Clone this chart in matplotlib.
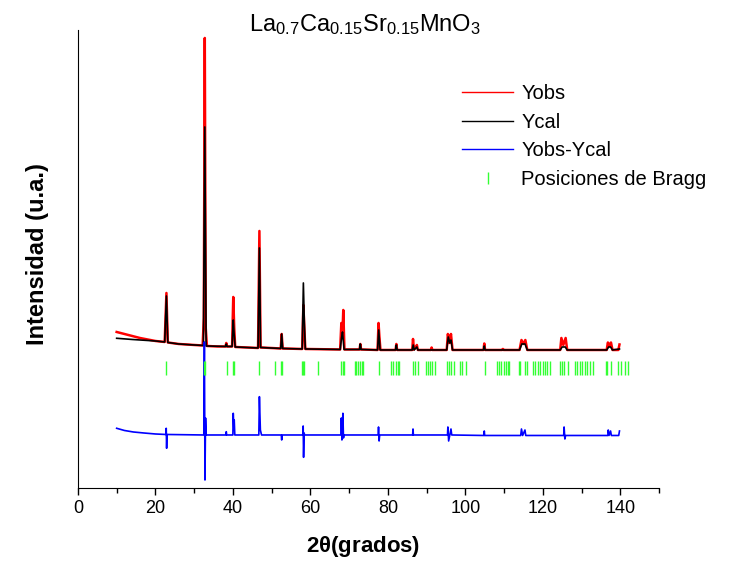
import matplotlib
matplotlib.use('Agg')
import matplotlib.pyplot as plt
from matplotlib.lines import Line2D
from matplotlib.ticker import MultipleLocator

plt.rcParams['font.family'] = ['Liberation Sans', 'DejaVu Sans']
plt.rcParams['mathtext.fontset'] = 'custom'
plt.rcParams['mathtext.rm'] = 'Liberation Sans'
plt.rcParams['mathtext.it'] = 'Liberation Sans:italic'
plt.rcParams['mathtext.bf'] = 'Liberation Sans:bold'

# observed pattern
obs_2t = [10.0, 11.0, 12.0, 14.0, 16.0, 18.0, 20.0, 22.4, 22.85, 23.2, 26.0, 30.0,
          32.2, 32.5, 32.75, 33.0, 33.3, 36.0, 38.1, 38.3, 38.5, 39.8, 40.1, 40.35,
          40.6, 46.5, 46.85, 47.15, 52.35, 52.6, 52.85, 57.9, 58.2, 58.45, 58.7,
          67.7, 68.0, 68.25, 68.5, 68.8, 72.7, 72.9, 73.1, 77.35, 77.6, 77.85, 78.1,
          82.0, 82.2, 82.4, 86.3, 86.5, 86.75, 87.5, 87.75, 91.1, 91.3, 91.5,
          95.2, 95.5, 95.9, 96.3, 96.7, 104.7, 104.9, 105.1, 109.5, 109.7, 109.9,
          114.0, 114.5, 115.0, 115.5, 116.0, 124.5, 124.8, 125.3, 125.9, 126.3,
          136.5, 136.8, 137.2, 137.6, 138.0, 139.5, 139.8]
obs_int = [156, 155, 154, 152, 150, 148.5, 147, 146, 195, 145.5, 144, 143,
           142.5, 170, 450, 160, 142, 141.5, 141.5, 145, 141.5, 141.5, 191, 160,
           141, 140, 257, 140.5, 139.5, 154, 139.5, 139, 183, 160, 139,
           138.5, 165, 150, 178, 138.5, 138.5, 144, 138.5, 138, 165, 150, 138,
           138, 144, 138, 138, 149, 138.5, 143, 138, 138, 140.5, 138,
           138, 154, 145, 154, 138, 138, 144.5, 138, 138, 139, 138,
           138, 148, 144, 148, 138, 138, 150, 143, 150, 138,
           138, 145.5, 142, 145.5, 138, 138, 143.5]

# calculated pattern
cal_2t = [10.0, 14.0, 20.0, 22.4, 22.85, 23.2, 26.0, 30.0, 32.4, 32.75, 33.1,
          38.1, 38.3, 38.5, 39.8, 40.1, 40.3, 40.6, 46.5, 46.85, 47.15,
          52.35, 52.6, 52.85, 57.9, 58.2, 58.45, 58.7, 67.7, 68.05, 68.3, 68.7,
          72.7, 72.9, 73.1, 77.35, 77.65, 78.0, 82.0, 82.2, 82.4,
          86.3, 86.55, 86.8, 87.5, 87.75, 95.2, 95.6, 96.0, 96.3, 96.7,
          104.7, 104.9, 105.1, 114.0, 114.6, 115.4, 116.0,
          124.5, 125.0, 125.8, 126.3, 136.5, 137.0, 137.5, 138.0, 139.8]
cal_int = [149.7, 148.5, 147, 146, 192, 145.5, 144, 143, 142.5, 361, 142,
           141.5, 144, 141.5, 141.5, 168, 155, 141, 140, 240, 140.5,
           139.5, 154, 139.5, 139, 205, 165, 139, 138.5, 150, 156, 138.5,
           138.5, 144, 138.5, 138, 158, 138, 138, 143, 138,
           138, 143, 138, 141, 138, 138, 151, 145, 148, 138,
           138, 142, 138, 138, 144, 144, 138,
           138, 141, 141, 138, 138, 141, 141, 138, 139]

# difference curve (shifted down)
dif_2t = [10.0, 12.0, 14.3, 17.0, 20.0, 22.7, 22.8, 22.9, 23.0, 32.5, 32.65, 32.8,
          32.95, 33.1, 38.2, 38.3, 38.4, 40.0, 40.1, 40.25, 40.35, 40.5, 46.7, 46.85,
          47.1, 47.4, 52.5, 52.6, 52.7, 58.05, 58.15, 58.25, 58.4, 58.5,
          67.9, 68.0, 68.15, 68.4, 68.55, 68.7, 77.5, 77.6, 77.75, 77.9,
          86.4, 86.5, 86.6, 95.4, 95.5, 95.7, 96.3, 96.5, 104.8, 104.9, 105.0,
          114.3, 114.5, 114.8, 115.4, 115.6, 125.4, 125.5, 125.7, 125.9,
          136.8, 136.9, 137.1, 137.5, 137.7, 139.6, 139.8]
dif_int = [59.7, 57.5, 56, 55, 54, 53.5, 59.7, 39.7, 53.5, 53, 146, 8,
           70, 53, 53, 56.3, 53, 53, 74.7, 60, 68, 53, 53, 91.3,
           58, 53, 53, 48, 53, 53, 62, 30.7, 55, 53,
           53, 70, 48, 74.7, 50, 53, 53, 61, 47, 53,
           53, 59, 53, 53, 61, 47, 59, 53, 52.5, 57, 52.5,
           52.5, 59, 52.5, 58, 52.5, 52.5, 61, 49, 52.5,
           52.5, 58, 52.5, 57, 52.5, 52.5, 57]

# Bragg reflections
bragg = [22.8, 32.5, 32.8, 38.4, 40.1, 40.3, 46.8, 51.0, 52.5, 52.7, 57.8, 58.1,
         58.4, 61.9, 67.9, 68.3, 68.6, 71.4, 71.9, 72.4, 72.9, 73.3, 73.7, 77.6,
         80.9, 81.4, 82.0, 82.5, 83.0, 86.5, 87.0, 87.9, 89.8, 90.3, 90.9, 91.5,
         92.1, 95.3, 95.7, 96.2, 97.0, 98.7, 99.1, 100.1, 105.2, 108.3, 108.7,
         109.3, 109.9, 110.5, 111.0, 111.4, 113.8, 114.2, 115.3, 115.8, 117.6,
         118.0, 118.7, 119.3, 120.0, 120.6, 121.2, 121.8, 124.4, 124.9, 125.6,
         126.5, 128.4, 128.9, 129.5, 130.2, 130.8, 131.5, 132.2, 133.0, 136.2,
         136.7, 137.6, 139.3, 140.1, 141.3, 141.9]
bragg_level = 119.5

fig = plt.figure(figsize=(7.35, 5.62), dpi=100)
ax = fig.add_axes([0.106, 0.1317, 0.7906, 0.815])

ax.plot(obs_2t, obs_int, color='red', lw=1.8)
ax.plot(cal_2t, cal_int, color='black', lw=1.2)
ax.plot(dif_2t, dif_int, color='blue', lw=1.2)
ax.plot(bragg, [bragg_level] * len(bragg), ls='none', marker='|',
        color='#33ff33', ms=9.5, mew=1)

ax.set_xlim(0, 150)
ax.set_ylim(0, 458)
ax.xaxis.set_major_locator(MultipleLocator(20))
ax.xaxis.set_minor_locator(MultipleLocator(10))
ax.tick_params(axis='x', which='major', direction='out', length=5, width=1, labelsize=13)
ax.tick_params(axis='x', which='minor', direction='out', length=3.5, width=1)
ax.set_yticks([])
for s in ['top', 'right']:
    ax.spines[s].set_visible(False)

ax.set_xlabel(r'2$\mathbf{\theta}$(grados)', fontsize=16, fontweight='bold')
ax.xaxis.set_label_coords(0.49, -0.1)
ax.set_ylabel('Intensidad (u.a.)', fontsize=17, fontweight='bold')
ax.yaxis.set_label_coords(-0.05, 0.51)

fig.text(0.497, 0.944,
         r'La$\mathregular{_{0.7}}$Ca$\mathregular{_{0.15}}$Sr$\mathregular{_{0.15}}$MnO$\mathregular{_3}$',
         ha='center', va='baseline', fontsize=17)

handles = [Line2D([], [], color='red', lw=1),
           Line2D([], [], color='black', lw=1),
           Line2D([], [], color='blue', lw=1),
           Line2D([], [], color='#33ff33', ls='none', marker='|', ms=8, mew=1)]
labels = ['Yobs', 'Ycal', 'Yobs-Ycal', 'Posiciones de Bragg']
fig.legend(handles, labels, loc='upper left', bbox_to_anchor=(462 / 735, 1 - 84 / 562),
           frameon=False, fontsize=14.5, borderpad=0, borderaxespad=0,
           handlelength=2.54, handletextpad=0.4, labelspacing=0.48, numpoints=1)

fig.savefig('out.png', dpi=100)
